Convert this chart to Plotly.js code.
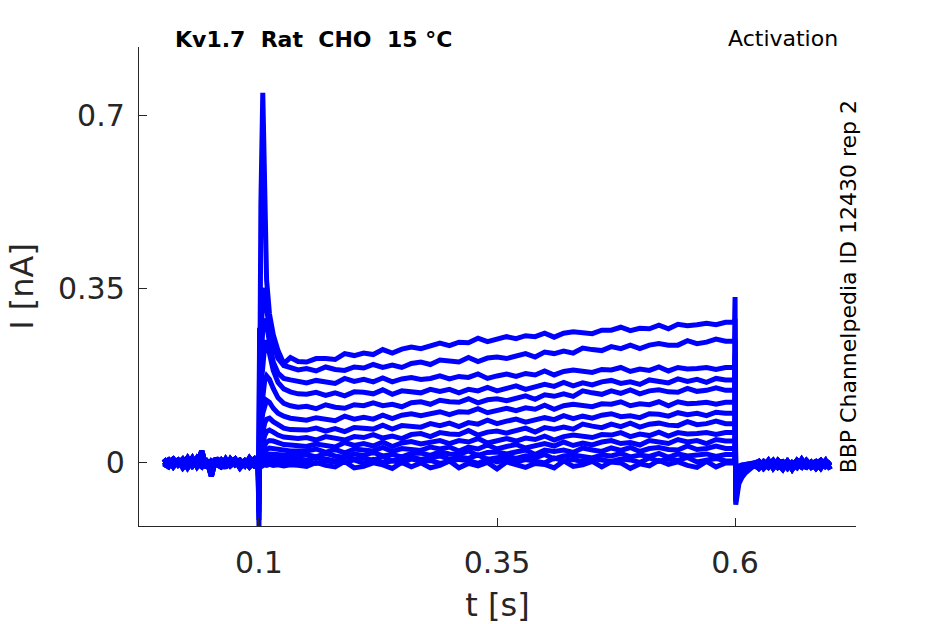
<!DOCTYPE html>
<html>
<head>
<meta charset="utf-8">
<script src="https://cdn.plot.ly/plotly-3.0.1.min.js"></script>
<style>
  html, body { margin: 0; padding: 0; background: #fff; }
  #myDiv { width: 945px; height: 624px; }
</style>
</head>
<body>
<div id="myDiv"></div>
<script>
// sample times [s], split by protocol segment
const tPre = [0, 0.005, 0.01, 0.015, 0.02, 0.025, 0.03, 0.035, 0.04, 0.045, 0.05, 0.055, 0.06, 0.065, 0.07, 0.075, 0.08, 0.085, 0.09, 0.095, 0.099];
const tOn = [0.1, 0.1006, 0.102, 0.104, 0.106, 0.108, 0.111, 0.115, 0.12, 0.126, 0.133, 0.141];
const tPulse = [0.15, 0.16, 0.17, 0.18, 0.19, 0.2, 0.21, 0.22, 0.23, 0.24, 0.25, 0.26, 0.27, 0.28, 0.29, 0.3, 0.31, 0.32, 0.33, 0.34, 0.35, 0.36, 0.37, 0.38, 0.39, 0.4, 0.41, 0.42, 0.43, 0.44, 0.45, 0.46, 0.47, 0.48, 0.49, 0.5, 0.51, 0.52, 0.53, 0.54, 0.55, 0.56, 0.57, 0.58, 0.59];
const tOff = [0.5995, 0.6, 0.6007, 0.602, 0.604, 0.607, 0.611, 0.616, 0.62];
const tPost = [0.625, 0.63, 0.635, 0.64, 0.645, 0.65, 0.655, 0.66, 0.665, 0.67, 0.675, 0.68, 0.685, 0.69, 0.695, 0.7];

// holding current before / after the step, in pA (overlapping sweeps)
const prePA = [
  [0, 6, -8, 4, -4, 10, -6, 2, 24, -10, 4, -2, 6, -4, 0, 8, -6, 4, -8, 2, 0],
  [-6, 2, 8, -4, 6, -10, 4, 0, -8, 6, -27, 10, -6, 2, -4, 6, -10, 2, 4, -6, -2],
  [8, -4, 0, 6, -10, 2, -6, 10, -2, 4, -8, 0, 6, -10, 8, -4, 2, -6, 10, -2, 4],
  [-2, -8, 6, -2, 8, -4, 10, -8, 4, -6, 2, -4, -8, 8, -6, 2, 6, -4, 0, 8, -6]
];
const postPA = [
  [-7, 3, -5, 5, -9, -1, -11, 1, -3, -9, 5, -5, 1, -11, 3, -5],
  [3, -11, -1, -7, 5, -5, 3, -13, 1, -5, 3, -9, -3, 5, -7, 1],
  [-11, -1, -9, 1, -3, -13, 3, -7, 5, -5, -9, 1, -11, -1, -5, 3],
  [-1, -7, 5, -11, 1, 3, -7, -1, -9, 7, -7, -1, 3, -7, 5, -13]
];

// sweep 0 (smallest step) .. sweep 13 (largest step), pA
const onsetPA = [
  [-8, 14, -8, -6, -4, -5, -3, -5, -4, -6, -4, -5],
  [-10, 22, -4, 0, 2, 3, 4, 3, 2, 3, 2, 2],
  [-14, 32, -2, 3, 6, 8, 10, 9, 9, 8, 8, 8],
  [-18, 42, 0, 7, 12, 16, 18, 18, 17, 16, 15, 15],
  [-24, 55, 5, 14, 22, 27, 30, 29, 27, 25, 24, 24],
  [-30, 72, 10, 25, 35, 42, 45, 44, 40, 37, 36, 35],
  [-38, 95, 20, 40, 55, 63, 66, 62, 56, 52, 50, 49],
  [-48, 125, 40, 65, 80, 88, 90, 83, 76, 70, 67, 66],
  [-58, 165, 70, 100, 118, 126, 122, 110, 100, 94, 90, 88],
  [-70, 205, 100, 140, 165, 175, 168, 150, 131, 120, 115, 112],
  [-85, 240, 150, 200, 236, 246, 222, 186, 162, 149, 143, 139],
  [-100, 262, 200, 268, 290, 280, 243, 203, 181, 170, 167, 163],
  [-115, 272, 250, 330, 352, 312, 268, 236, 210, 196, 191, 187],
  [-128, 278, 520, 745, 555, 368, 300, 258, 226, 200, 212, 204]
];
const pulsePA = [
  [-7, 1, -5, -8, 3, -10, -7, 0, -4, -11, 1, -8, 0, -10, -5, 4, -10, -1, -6, 1, -12, 2, -4, -9, -1, -3, -10, 4, -7, -4, 3, -8, 2, 0, -11, -2, -6, 5, -3, 2, -5, -9, 3, -8, 0],
  [3, -1, 4, 2, 1, 6, -1, 7, 1, 4, 0, 8, 3, 5, -1, 3, 7, 5, -1, 8, 2, 6, 1, 7, 4, 0, 10, 4, 7, 2, 9, 5, 3, 8, 6, 1, 10, 3, 8, 5, 11, 2, 6, 9, 4],
  [6, 11, 8, 4, 13, 7, 10, 5, 13, 4, 10, 12, 7, 10, 14, 7, 12, 9, 16, 7, 11, 14, 9, 14, 10, 17, 8, 14, 16, 13, 10, 16, 14, 19, 12, 16, 13, 19, 11, 18, 14, 16, 18, 13, 17],
  [17, 12, 19, 14, 11, 18, 15, 21, 14, 17, 12, 19, 20, 15, 22, 18, 17, 24, 15, 21, 22, 18, 21, 26, 17, 26, 23, 26, 21, 30, 26, 23, 30, 25, 31, 23, 29, 31, 27, 26, 34, 27, 29, 34, 29],
  [24, 28, 21, 27, 20, 28, 26, 24, 31, 23, 29, 27, 25, 32, 28, 32, 24, 32, 28, 36, 28, 33, 37, 30, 35, 39, 34, 42, 35, 40, 36, 42, 45, 39, 41, 36, 45, 43, 39, 47, 42, 45, 39, 47, 44],
  [33, 38, 35, 32, 41, 35, 39, 34, 42, 33, 40, 43, 38, 41, 45, 39, 45, 42, 49, 40, 45, 49, 44, 50, 47, 54, 46, 53, 56, 53, 51, 57, 56, 61, 53, 58, 55, 62, 54, 61, 58, 59, 61, 57, 61],
  [51, 46, 53, 49, 46, 53, 51, 57, 50, 54, 49, 57, 59, 53, 61, 58, 57, 65, 56, 62, 64, 60, 64, 70, 62, 71, 68, 72, 68, 78, 74, 71, 78, 73, 80, 72, 78, 80, 76, 75, 83, 77, 79, 84, 79],
  [66, 70, 64, 69, 63, 71, 70, 68, 76, 68, 75, 74, 72, 79, 75, 80, 73, 81, 78, 86, 79, 84, 88, 82, 87, 91, 87, 95, 89, 94, 90, 96, 99, 93, 95, 91, 99, 98, 94, 101, 97, 100, 95, 102, 100],
  [86, 91, 88, 85, 94, 88, 92, 88, 96, 89, 96, 99, 95, 98, 103, 97, 103, 102, 109, 101, 106, 110, 105, 111, 108, 116, 108, 115, 118, 115, 113, 119, 118, 123, 115, 119, 117, 123, 115, 123, 119, 120, 122, 118, 122],
  [114, 109, 117, 112, 110, 117, 115, 121, 115, 118, 113, 121, 123, 118, 126, 123, 122, 129, 121, 127, 129, 125, 130, 135, 128, 137, 134, 139, 134, 145, 141, 138, 145, 140, 147, 139, 145, 147, 143, 142, 150, 144, 146, 151, 146],
  [138, 142, 136, 141, 135, 143, 142, 139, 147, 138, 145, 143, 141, 148, 144, 148, 141, 148, 145, 152, 145, 150, 155, 148, 153, 158, 154, 162, 155, 161, 157, 163, 166, 160, 163, 158, 167, 165, 161, 169, 164, 168, 162, 170, 167],
  [161, 166, 164, 160, 170, 164, 168, 163, 171, 163, 169, 172, 168, 170, 175, 169, 174, 172, 179, 170, 175, 179, 174, 180, 177, 185, 177, 184, 187, 184, 182, 188, 187, 192, 184, 189, 186, 193, 185, 192, 189, 190, 192, 188, 192],
  [190, 185, 193, 188, 186, 193, 191, 198, 192, 197, 192, 200, 203, 198, 207, 204, 203, 212, 204, 211, 213, 210, 214, 220, 213, 223, 220, 225, 221, 231, 228, 226, 234, 230, 237, 230, 237, 240, 237, 237, 246, 240, 243, 249, 245],
  [203, 210, 210, 208, 220, 216, 221, 218, 228, 221, 229, 233, 230, 235, 241, 236, 243, 242, 251, 244, 250, 254, 250, 256, 254, 261, 253, 261, 264, 262, 260, 267, 267, 273, 266, 271, 270, 277, 270, 279, 276, 278, 281, 278, 283]
];
const offsetPA = [
  [0, 12, -12, -8, -6, -4, -3, -2, 0],
  [4, 22, -15, -10, -7, -5, -3, -2, 0],
  [17, 35, -20, -14, -9, -6, -4, -2, -1],
  [29, 48, -25, -17, -11, -7, -5, -3, -1],
  [44, 65, -30, -21, -14, -9, -6, -4, -1],
  [61, 85, -36, -25, -16, -11, -7, -4, -2],
  [79, 105, -42, -29, -19, -13, -9, -5, -2],
  [100, 130, -48, -33, -22, -15, -10, -6, -2],
  [122, 160, -54, -38, -25, -17, -11, -6, -3],
  [146, 190, -60, -42, -28, -19, -12, -7, -3],
  [167, 220, -66, -46, -31, -21, -14, -8, -4],
  [192, 250, -72, -50, -34, -23, -15, -9, -4],
  [245, 290, -78, -55, -38, -26, -17, -10, -5],
  [283, 334, -84, -62, -42, -30, -20, -12, -6]
];

const xTicks = [0.1, 0.35, 0.6];
const xTickText = ['0.1', '0.35', '0.6'];
const yTicks = [0, 0.35, 0.7];
const yTickText = ['0', '0.35', '0.7'];

const tAll = tPre.concat(tOn, tPulse, tOff, tPost);
const gData = [];
for (let k = 0; k < pulsePA.length; k++) {
  const pA = prePA[k % 4].concat(onsetPA[k], pulsePA[k], offsetPA[k], postPA[(k + 1) % 4]);
  gData.push({
    x: tAll,
    y: pA.map(v => v / 1000), // pA -> nA
    type: 'scatter',
    mode: 'lines',
    line: {color: '#0000ff', width: 5},
    hoverinfo: 'skip',
    showlegend: false
  });
}

const axisColor = '#262626';
const layout = {
  width: 945,
  height: 624,
  margin: {l: 139, r: 89, t: 47, b: 98},
  paper_bgcolor: '#ffffff',
  plot_bgcolor: '#ffffff',
  font: {family: 'DejaVu Sans', color: axisColor},
  showlegend: false,
  xaxis: {
    range: [-0.026, 0.727],
    tickvals: xTicks,
    ticktext: xTickText,
    ticks: 'inside',
    ticklen: 8,
    tickcolor: axisColor,
    tickwidth: 1,
    ticklabelstandoff: 10,
    tickfont: {family: 'DejaVu Sans', size: 30, color: axisColor},
    showline: true,
    linecolor: axisColor,
    linewidth: 1.2,
    showgrid: false,
    zeroline: false,
    title: {text: 't [s]', font: {family: 'DejaVu Sans', size: 32, color: axisColor}, standoff: 16}
  },
  yaxis: {
    range: [-0.127, 0.837],
    tickvals: yTicks,
    ticktext: yTickText,
    ticks: 'inside',
    ticklen: 8,
    tickcolor: axisColor,
    tickwidth: 1,
    ticklabelstandoff: 7,
    tickfont: {family: 'DejaVu Sans', size: 30, color: axisColor},
    showline: true,
    linecolor: axisColor,
    linewidth: 1.2,
    showgrid: false,
    zeroline: false,
    title: {text: 'I [nA]', font: {family: 'DejaVu Sans', size: 32, color: axisColor}, standoff: 14}
  },
  annotations: [
    {
      text: '<b>Kv1.7\u00a0\u00a0Rat\u00a0\u00a0CHO\u00a0\u00a015 °C</b>',
      xref: 'paper', yref: 'paper', x: 0.048, y: 1.015,
      xanchor: 'left', yanchor: 'middle', showarrow: false,
      font: {family: 'DejaVu Sans', size: 22, color: '#000000'}
    },
    {
      text: 'Activation',
      xref: 'paper', yref: 'paper', x: 0.977, y: 1.017,
      xanchor: 'right', yanchor: 'middle', showarrow: false,
      font: {family: 'DejaVu Sans', size: 22, color: '#000000'}
    },
    {
      text: 'BBP Channelpedia ID 12430 rep 2',
      xref: 'paper', yref: 'paper', x: 0.99, y: 0.5,
      xanchor: 'center', yanchor: 'middle', showarrow: false, textangle: -90,
      font: {family: 'DejaVu Sans', size: 22, color: '#000000'}
    }
  ]
};

Plotly.newPlot('myDiv', gData, layout, {staticPlot: true, displayModeBar: false});
</script>
</body>
</html>
